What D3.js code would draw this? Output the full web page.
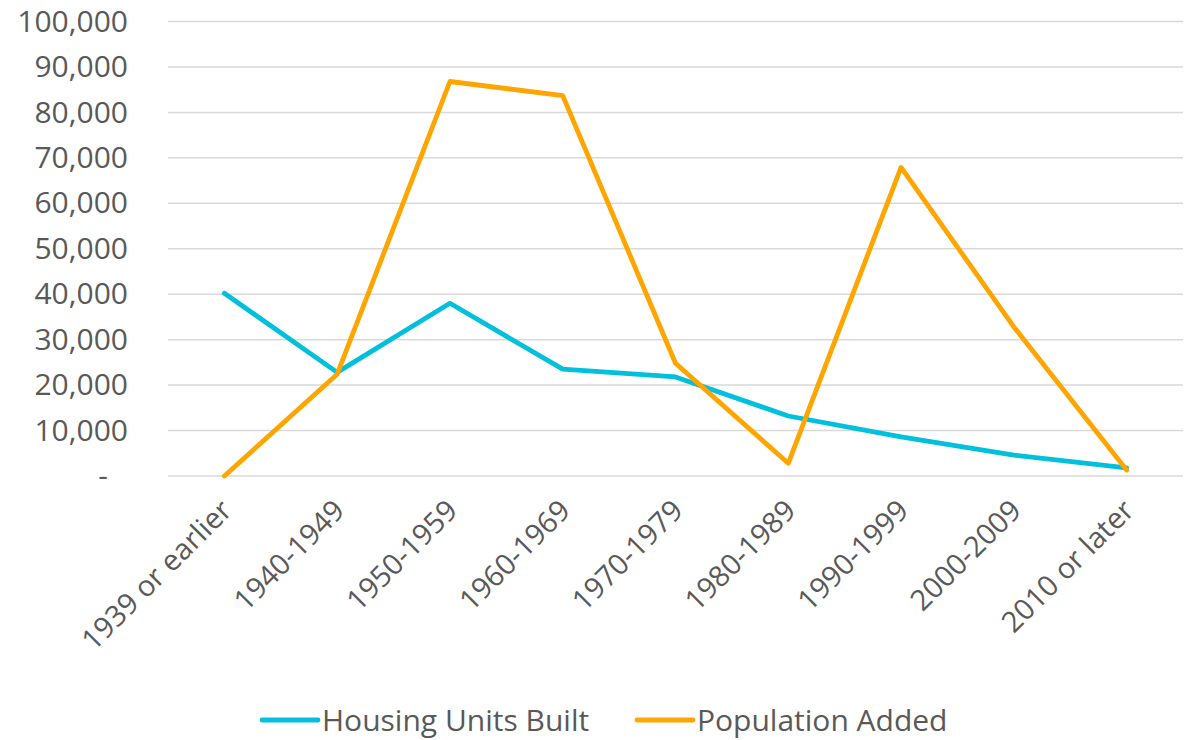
<!DOCTYPE html>
<html>
<head>
<meta charset="utf-8">
<script src="https://cdn.jsdelivr.net/npm/d3@7"></script>
<style>
  body { margin: 0; background: #fff; }
  text { font-family: "Open Sans", "Noto Sans", sans-serif; fill: #595959; }
</style>
</head>
<body>
<div class="chart-box"></div>
<script>
let categories = ["1939 or earlier", "1940-1949", "1950-1959", "1960-1969", "1970-1979",
  "1980-1989", "1990-1999", "2000-2009", "2010 or later"];
let housingUnits = [40200, 22800, 38000, 23500, 21800, 13200, 8600, 4600, 1800];
let populationAdded = [0, 22400, 86800, 83700, 24800, 2800, 67900, 32800, 1300];
let yTicks = [0, 10000, 20000, 30000, 40000, 50000, 60000, 70000, 80000, 90000, 100000];
let seriesNames = ["Housing Units Built", "Population Added"];
let seriesColors = ["#00c0dc", "#ffa500"];

let width = 1197, height = 740;
let margin = {left: 168, right: 14, top: 21.5, bottom: 264};

let svg = d3.select(".chart-box")
  .append("svg")
  .attr("width", width)
  .attr("height", height);

let x = d3.scalePoint()
  .domain(categories)
  .range([margin.left, width - margin.right])
  .padding(0.5);

let y = d3.scaleLinear()
  .domain([0, 100000])
  .range([height - margin.bottom, margin.top]);

//gridlines
svg.append("g")
  .attr("class", "grid")
  .selectAll("line")
  .data(yTicks)
  .enter()
  .append("line")
  .attr("x1", margin.left)
  .attr("x2", width - margin.right)
  .attr("y1", d => y(d))
  .attr("y2", d => y(d))
  .attr("stroke", "#d9d9d9")
  .attr("stroke-width", 1.5);

//y axis labels
let yAxis = d3.axisLeft(y)
  .tickValues(yTicks)
  .tickSize(0)
  .tickPadding(0)
  .tickFormat(d => d === 0 ? "-" : d3.format(",")(d));

svg.append("g")
  .attr("transform", "translate(" + (margin.left - 40) + ",0)")
  .call(yAxis)
  .call(g => g.select(".domain").remove())
  .call(g => g.selectAll("text")
    .attr("fill", "#595959")
    .style("font-size", "30px")
    .attr("dx", d => d === 0 ? -20 : 0));

//x axis labels
svg.append("g")
  .selectAll("text")
  .data(categories)
  .enter()
  .append("text")
  .attr("transform", d => "translate(" + (x(d) + 2) + "," + (height - margin.bottom + 29) + ") rotate(-45)")
  .attr("text-anchor", "end")
  .attr("dy", "0.35em")
  .style("font-size", "29px")
  .text(d => d);

//lines
let line = d3.line()
  .x((d, i) => x(categories[i]))
  .y(d => y(d));

[housingUnits, populationAdded].forEach(function (values, i) {
  svg.append("path")
    .datum(values)
    .attr("d", line)
    .attr("fill", "none")
    .attr("stroke", seriesColors[i])
    .attr("stroke-width", 4.8)
    .attr("stroke-linejoin", "round")
    .attr("stroke-linecap", "round");
});

//legend
let legendX = [262, 637];
let legend = svg.append("g")
  .selectAll("g")
  .data(seriesNames)
  .enter()
  .append("g")
  .attr("transform", (d, i) => "translate(" + legendX[i] + ",720)");

legend.append("line")
  .attr("x1", 0)
  .attr("x2", 56)
  .attr("stroke", (d, i) => seriesColors[i])
  .attr("stroke-width", 4.8)
  .attr("stroke-linecap", "round");

legend.append("text")
  .attr("x", 60)
  .attr("dy", "0.35em")
  .style("font-size", "30px")
  .text(d => d);
</script>
</body>
</html>
